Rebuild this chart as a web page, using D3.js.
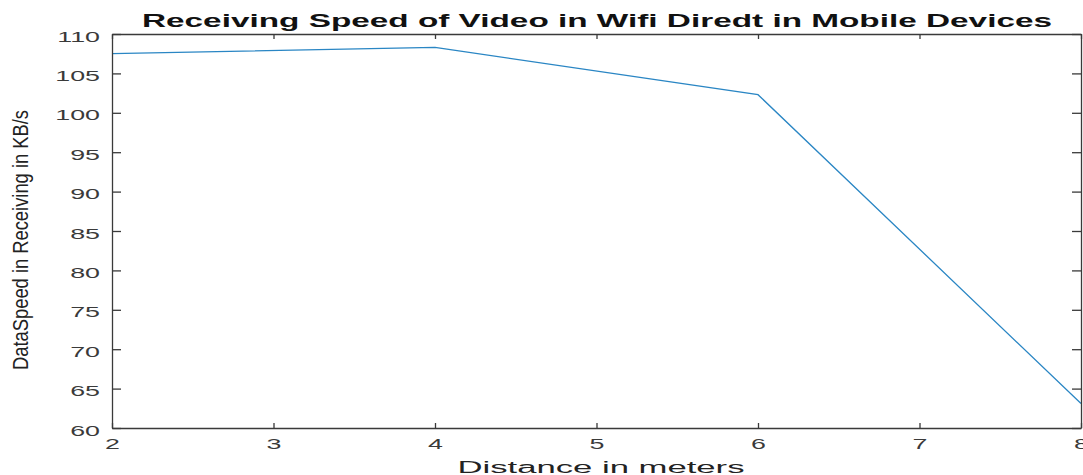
<!DOCTYPE html>
<html>
<head>
<meta charset="utf-8">
<script src="https://cdn.jsdelivr.net/npm/d3@7"></script>
<style>
  body { margin: 0; background: #fff; }
  text { font-family: "Liberation Sans", Arial, sans-serif; }
</style>
</head>
<body>
<div id="chart"></div>
<script>
var distances = [2, 4, 6, 8];
var speeds = [107.5, 108.3, 102.3, 63.1];
var xTicks = [2, 3, 4, 5, 6, 7, 8];
var yTicks = [60, 65, 70, 75, 80, 85, 90, 95, 100, 105, 110];

var margin = {top: 34, right: 2, bottom: 47, left: 112},
    width = 1083 - margin.left - margin.right,
    height = 475 - margin.top - margin.bottom;

// the source picture is stretched sideways, so text is too
var stretch = 1.85;

var x = d3.scaleLinear().domain([2, 8]).range([0, width]);
var y = d3.scaleLinear().domain([60, 110]).range([height, 0]);

var svg = d3.select('#chart').append('svg')
    .attr('width', 1083)
    .attr('height', 475);

var g = svg.append('g')
    .attr('transform', 'translate(' + margin.left + ',' + margin.top + ')');

var data = distances.map(function(d, i) { return {dist: d, speed: speeds[i]}; });

var line = d3.line()
    .x(function(d) { return x(d.dist); })
    .y(function(d) { return y(d.speed); });

g.append('path')
    .datum(data)
    .attr('d', line)
    .attr('fill', 'none')
    .attr('stroke', '#2a86c4')
    .attr('stroke-width', 1.3);

// axes, ticks pointing inward like matlab
var tickX = 5, tickY = 9;
var fmt = d3.format('d');
var axBottom = g.append('g')
    .attr('transform', 'translate(0,' + height + ')')
    .call(d3.axisBottom(x).tickValues(xTicks).tickFormat(fmt).tickSizeInner(-tickX).tickSizeOuter(0).tickPadding(11));
var axTop = g.append('g')
    .call(d3.axisTop(x).tickValues(xTicks).tickSizeInner(-tickX).tickSizeOuter(0).tickFormat(''));
var axLeft = g.append('g')
    .call(d3.axisLeft(y).tickValues(yTicks).tickFormat(fmt).tickSizeInner(-tickY).tickSizeOuter(0));
var axRight = g.append('g')
    .attr('transform', 'translate(' + width + ',0)')
    .call(d3.axisRight(y).tickValues(yTicks).tickSizeInner(-tickY).tickSizeOuter(0).tickFormat(''));

[axBottom, axTop, axLeft, axRight].forEach(function(a) {
  a.selectAll('path, line').attr('stroke', '#3a3a3a').attr('stroke-width', 1.3);
  a.selectAll('text').attr('fill', '#3a3a3a').style('font-size', '14.5px');
});

axBottom.selectAll('text')
    .attr('transform', 'scale(' + stretch + ',1)');
axLeft.selectAll('text')
    .attr('x', 0)
    .attr('dy', '0.42em')
    .attr('transform', 'translate(-12,1) scale(' + stretch + ',1)');

// title
svg.append('text')
    .attr('x', 597)
    .attr('y', 27)
    .attr('text-anchor', 'middle')
    .attr('textLength', 910)
    .attr('lengthAdjust', 'spacingAndGlyphs')
    .style('font-size', '18px')
    .style('font-weight', 'bold')
    .attr('fill', '#111')
    .text('Receiving Speed of Video in Wifi Diredt in Mobile Devices');

// x label
svg.append('text')
    .attr('x', 601)
    .attr('y', 473)
    .attr('text-anchor', 'middle')
    .attr('textLength', 287)
    .attr('lengthAdjust', 'spacingAndGlyphs')
    .style('font-size', '16px')
    .attr('fill', '#222')
    .text('Distance in meters');

// y label, rotated then stretched sideways
svg.append('text')
    .attr('transform', 'translate(28,240) scale(1.6,1) rotate(-90)')
    .attr('text-anchor', 'middle')
    .attr('textLength', 260)
    .attr('lengthAdjust', 'spacingAndGlyphs')
    .style('font-size', '14px')
    .attr('fill', '#222')
    .text('DataSpeed in Receiving in KB/s');
</script>
</body>
</html>
